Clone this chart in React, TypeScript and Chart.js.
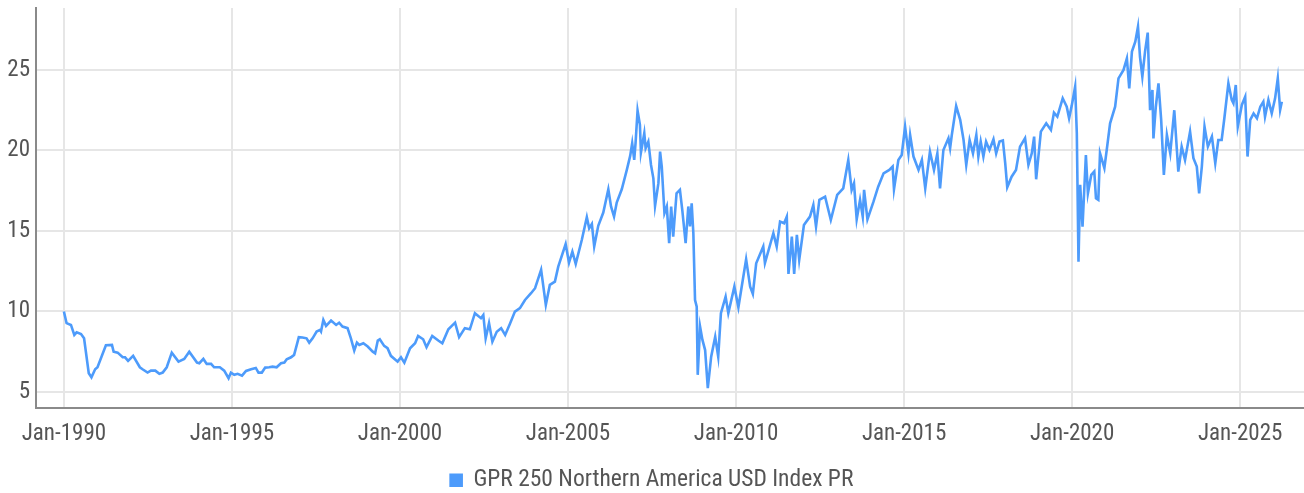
import React, { useEffect, useRef } from "react";
import { Chart, registerables } from "chart.js";

Chart.register(...registerables);

const seriesLabel = "GPR 250 Northern America USD Index PR";

const years: number[] = [
  1990.0, 1990.08, 1990.21, 1990.31, 1990.38, 1990.51, 1990.6, 1990.74, 1990.82, 1990.93,
  1991.0, 1991.25, 1991.43, 1991.48, 1991.6, 1991.75, 1991.82, 1991.91, 1992.06, 1992.26,
  1992.34, 1992.49, 1992.59, 1992.72, 1992.84, 1992.94, 1993.06, 1993.21, 1993.41, 1993.58,
  1993.73, 1993.96, 1994.03, 1994.15, 1994.25, 1994.38, 1994.47, 1994.64, 1994.77, 1994.9,
  1994.97, 1995.07, 1995.17, 1995.3, 1995.42, 1995.57, 1995.71, 1995.79, 1995.89, 1995.99,
  1996.11, 1996.21, 1996.33, 1996.46, 1996.56, 1996.63, 1996.76, 1996.85, 1996.93, 1996.99,
  1997.1, 1997.22, 1997.3, 1997.4, 1997.52, 1997.62, 1997.65, 1997.72, 1997.8, 1997.95,
  1998.1, 1998.19, 1998.29, 1998.44, 1998.54, 1998.64, 1998.72, 1998.79, 1998.91, 1999.04,
  1999.19, 1999.26, 1999.34, 1999.4, 1999.53, 1999.63, 1999.73, 1999.93, 2000.03, 2000.13,
  2000.3, 2000.45, 2000.54, 2000.69, 2000.79, 2000.96, 2001.14, 2001.26, 2001.44, 2001.64,
  2001.76, 2001.93, 2002.08, 2002.23, 2002.41, 2002.48, 2002.55, 2002.65, 2002.75, 2002.88,
  2003.01, 2003.13, 2003.27, 2003.42, 2003.57, 2003.72, 2003.9, 2004.02, 2004.2, 2004.34,
  2004.46, 2004.61, 2004.71, 2004.93, 2005.03, 2005.13, 2005.23, 2005.41, 2005.56, 2005.63,
  2005.71, 2005.78, 2005.9, 2006.05, 2006.2, 2006.28, 2006.37, 2006.45, 2006.6, 2006.75,
  2006.85, 2006.91, 2006.97, 2007.01, 2007.07, 2007.14, 2007.17, 2007.27, 2007.31, 2007.39,
  2007.47, 2007.54, 2007.59, 2007.69, 2007.74, 2007.79, 2007.87, 2007.94, 2008.01, 2008.07,
  2008.13, 2008.23, 2008.33, 2008.4, 2008.5, 2008.58, 2008.63, 2008.68, 2008.73, 2008.78,
  2008.83, 2008.86, 2008.93, 2009.0, 2009.08, 2009.16, 2009.26, 2009.38, 2009.47, 2009.55,
  2009.69, 2009.77, 2009.95, 2010.07, 2010.3, 2010.42, 2010.5, 2010.6, 2010.81, 2010.86,
  2011.11, 2011.21, 2011.31, 2011.43, 2011.51, 2011.56, 2011.66, 2011.73, 2011.81, 2011.88,
  2012.02, 2012.2, 2012.3, 2012.38, 2012.48, 2012.65, 2012.82, 2013.01, 2013.19, 2013.34,
  2013.44, 2013.51, 2013.59, 2013.69, 2013.77, 2013.81, 2013.91, 2014.09, 2014.23, 2014.39,
  2014.56, 2014.66, 2014.7, 2014.83, 2014.93, 2015.03, 2015.13, 2015.18, 2015.28, 2015.43,
  2015.53, 2015.63, 2015.77, 2015.89, 2015.99, 2016.07, 2016.17, 2016.32, 2016.37, 2016.42,
  2016.55, 2016.67, 2016.77, 2016.85, 2016.95, 2017.05, 2017.15, 2017.21, 2017.28, 2017.36,
  2017.44, 2017.54, 2017.66, 2017.74, 2017.84, 2017.94, 2018.01, 2018.07, 2018.2, 2018.33,
  2018.45, 2018.6, 2018.7, 2018.8, 2018.87, 2018.93, 2019.07, 2019.23, 2019.37, 2019.46,
  2019.56, 2019.72, 2019.84, 2019.91, 2019.99, 2020.09, 2020.14, 2020.19, 2020.24, 2020.31,
  2020.41, 2020.47, 2020.57, 2020.66, 2020.71, 2020.78, 2020.83, 2020.96, 2021.03, 2021.13,
  2021.28, 2021.38, 2021.53, 2021.63, 2021.7, 2021.78, 2021.88, 2021.96, 2022.02, 2022.09,
  2022.17, 2022.25, 2022.32, 2022.39, 2022.42, 2022.49, 2022.57, 2022.65, 2022.73, 2022.82,
  2022.92, 2023.04, 2023.16, 2023.26, 2023.36, 2023.51, 2023.61, 2023.71, 2023.78, 2023.86,
  2023.94, 2024.04, 2024.16, 2024.26, 2024.35, 2024.45, 2024.53, 2024.65, 2024.75, 2024.8,
  2024.87, 2024.93, 2025.05, 2025.15, 2025.22, 2025.3, 2025.4, 2025.5, 2025.6, 2025.69,
  2025.74, 2025.84, 2025.94, 2026.04, 2026.12, 2026.19, 2026.24,
];

const values: number[] = [
  10.0, 9.27, 9.16, 8.54, 8.7, 8.6, 8.33, 6.16, 5.91, 6.41,
  6.53, 7.9, 7.92, 7.5, 7.44, 7.15, 7.15, 6.93, 7.24, 6.53,
  6.41, 6.2, 6.32, 6.32, 6.12, 6.2, 6.53, 7.44, 6.88, 7.05,
  7.5, 6.82, 6.78, 7.05, 6.74, 6.74, 6.53, 6.53, 6.32, 5.85,
  6.2, 6.06, 6.12, 6.01, 6.3, 6.41, 6.49, 6.2, 6.2, 6.51,
  6.53, 6.57, 6.53, 6.78, 6.82, 7.03, 7.15, 7.3, 7.92, 8.4,
  8.38, 8.33, 8.06, 8.33, 8.75, 8.85, 8.75, 9.47, 9.1, 9.43,
  9.16, 9.3, 9.06, 8.96, 8.33, 7.57, 8.06, 7.92, 8.02, 7.82,
  7.5, 7.4, 8.19, 8.27, 7.86, 7.72, 7.24, 6.88, 7.15, 6.82,
  7.71, 8.02, 8.48, 8.27, 7.78, 8.48, 8.19, 8.02, 8.89, 9.3,
  8.4, 8.96, 8.89, 9.89, 9.58, 9.78, 8.33, 9.27, 8.12, 8.74,
  8.96, 8.54, 9.22, 9.99, 10.2, 10.71, 11.13, 11.44, 12.58, 10.4,
  11.65, 11.85, 12.78, 14.19, 13.03, 13.71, 12.95, 14.44, 15.85, 15.16,
  15.43, 14.03, 15.32, 16.14, 17.59, 16.52, 15.89, 16.76, 17.59, 18.79,
  19.66, 20.45, 19.41, 20.45, 22.48, 21.59, 19.87, 21.07, 20.14, 20.55,
  19.1, 18.27, 16.55, 17.97, 19.93, 19.0, 16.1, 16.52, 14.24, 16.52,
  14.65, 17.34, 17.55, 16.31, 14.24, 16.52, 15.28, 16.72, 14.86, 10.71,
  10.3, 6.06, 9.06, 8.23, 7.6, 5.23, 7.19, 8.43, 7.19, 9.89,
  10.92, 9.89, 11.54, 10.26, 13.24, 11.54, 11.09, 12.99, 14.03, 13.0,
  14.86, 14.03, 15.58, 15.48, 15.89, 12.33, 14.65, 12.33, 14.76, 13.2,
  15.37, 15.89, 16.61, 15.27, 16.93, 17.13, 15.68, 17.24, 17.65, 19.41,
  17.55, 17.96, 15.72, 16.93, 15.89, 17.55, 15.72, 16.82, 17.75, 18.58,
  18.79, 19.0, 17.59, 19.41, 19.72, 21.48, 19.82, 20.96, 19.62, 18.79,
  19.41, 17.65, 19.93, 18.79, 19.82, 17.65, 20.03, 20.76, 20.14, 20.96,
  22.76, 21.9, 20.65, 19.1, 20.65, 19.82, 20.96, 19.62, 20.55, 19.62,
  20.55, 20.03, 20.69, 19.82, 20.55, 20.62, 19.2, 17.71, 18.37, 18.79,
  20.24, 20.76, 19.1, 19.82, 20.86, 18.21, 21.17, 21.69, 21.27, 22.35,
  22.1, 23.24, 22.72, 22.0, 22.8, 23.96, 21.07, 13.09, 17.86, 15.27,
  19.72, 17.34, 18.48, 18.69, 17.03, 16.93, 19.83, 18.9, 20.03, 21.69,
  22.72, 24.48, 25.0, 25.72, 23.86, 26.14, 26.76, 27.69, 25.82, 24.58,
  26.14, 27.32, 22.5, 23.76, 20.75, 22.7, 24.17, 21.9, 18.48, 20.96,
  19.82, 22.5, 18.69, 20.24, 19.41, 21.17, 19.52, 19.0, 17.34, 19.0,
  21.48, 20.24, 20.86, 19.2, 20.65, 20.65, 22.0, 24.17, 23.14, 22.93,
  24.07, 21.48, 22.83, 23.34, 19.62, 21.9, 22.3, 22.0, 22.72, 23.03,
  22.1, 23.14, 22.3, 23.24, 24.48, 22.52, 23.03,
];

const xTickYears: number[] = [1990, 1995, 2000, 2005, 2010, 2015, 2020, 2025];
const yTickValues: number[] = [5, 10, 15, 20, 25];

const FONT = "'Liberation Sans Narrow', 'Roboto Condensed', 'Liberation Sans', sans-serif";

export default function App() {
  const canvasRef = useRef<HTMLCanvasElement | null>(null);

  useEffect(() => {
    const canvas = canvasRef.current;
    if (!canvas) return;
    const points = years.map((x, i) => ({ x, y: values[i] }));
    const chart = new Chart(canvas, {
      type: "line",
      data: {
        datasets: [
          {
            label: seriesLabel,
            data: points,
            borderColor: "#4d9bfb",
            backgroundColor: "#4d9bfb",
            borderWidth: 2.6,
            pointRadius: 0,
            tension: 0,
            fill: false,
          },
        ],
      },
      options: {
        animation: false,
        responsive: false,
        maintainAspectRatio: false,
        layout: { padding: { top: 8, right: 0, left: 0, bottom: -9 } },
        plugins: {
          legend: {
            display: true,
            position: "bottom",
            labels: {
              boxWidth: 11,
              boxHeight: 11,
              padding: 1,
              color: "#555",
              font: { family: FONT, size: 23.5 },
            },
          },
          tooltip: { enabled: false },
        },
        scales: {
          x: {
            type: "linear",
            min: 1989.17,
            max: 2026.9,
            afterBuildTicks: (axis: any) => {
              axis.ticks = xTickYears.map((v) => ({ value: v }));
            },
            afterFit: (axis: any) => {
              axis.height = 59.5;
              axis.paddingLeft = 0;
              axis.paddingRight = 0;
            },
            ticks: {
              color: "#555",
              padding: 12,
              maxRotation: 0,
              autoSkip: false,
              font: { family: FONT, size: 23 },
              callback: (v: any) => "Jan-" + v,
            },
            grid: { color: "#e6e6e6", lineWidth: 2, drawTicks: false },
            border: { display: true, color: "#8a8a8a", width: 2 },
          },
          y: {
            type: "linear",
            min: 4,
            max: 28.85,
            afterBuildTicks: (axis: any) => {
              axis.ticks = yTickValues.map((v) => ({ value: v }));
            },
            afterFit: (axis: any) => {
              axis.width = 36;
              axis.paddingTop = 0;
              axis.paddingBottom = 0;
            },
            ticks: {
              color: "#555",
              padding: 6,
              font: { family: FONT, size: 23 },
            },
            grid: { color: "#e6e6e6", lineWidth: 2, drawTicks: false },
            border: { display: true, color: "#8a8a8a", width: 2 },
          },
        },
      },
    });
    return () => chart.destroy();
  }, []);

  return (
    <div style={{ position: "fixed", left: 0, top: 0, width: 1304, height: 493, background: "#fff" }}>
      <canvas ref={canvasRef} width={1304} height={493} style={{ display: "block", width: 1304, height: 493 }} />
    </div>
  );
}
